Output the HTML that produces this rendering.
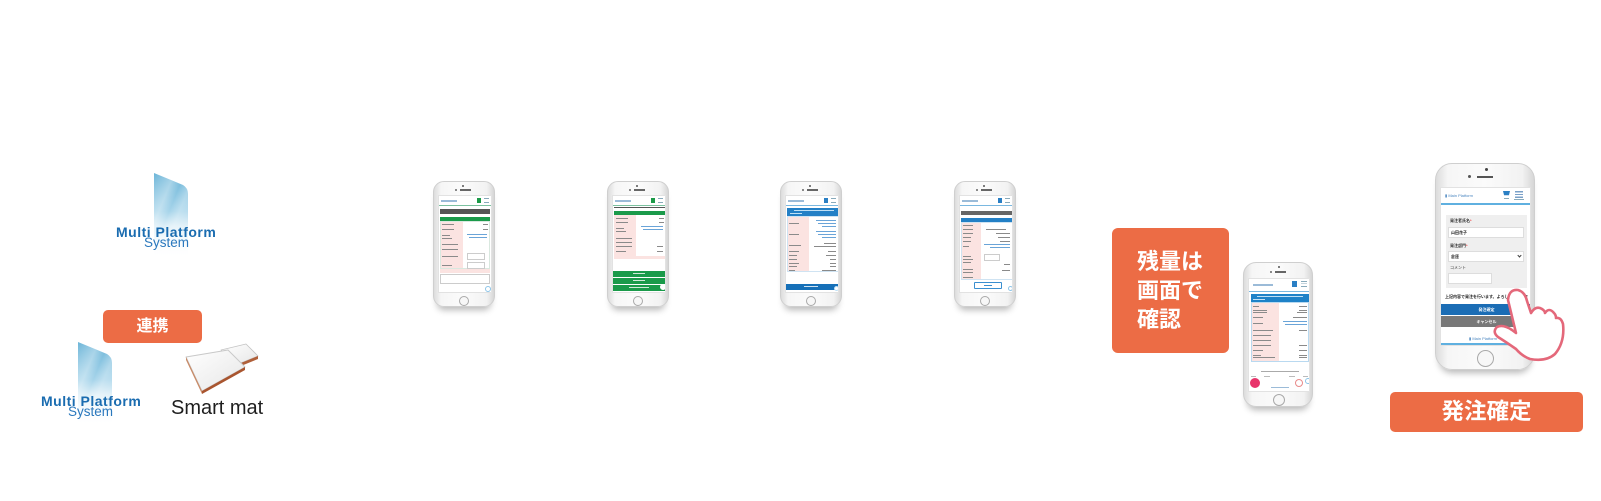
<!DOCTYPE html>
<html><head><meta charset="utf-8">
<style>
*{margin:0;padding:0;box-sizing:border-box}
html,body{width:1601px;height:501px;background:#fff;overflow:hidden}
body{position:relative;font-family:"Liberation Sans","Noto Sans CJK JP",sans-serif}
.a{position:absolute}
.ph{position:absolute;background:linear-gradient(90deg,#dcdcdc 0%,#f6f6f6 12%,#fbfbfb 50%,#f2f2f2 88%,#d6d6d6 100%);border:1px solid #cfcfcf;box-shadow:0 7px 7px -4px rgba(0,0,0,0.28)}
.scr{position:absolute;background:#fff;overflow:hidden;border:1px solid #e2e2e2}
.hb{position:absolute;border-radius:50%;border:1px solid #a9a9a9;background:#f7f7f7}
.t{position:absolute;height:1px;background:#8a8a8a}
.pk{position:absolute;background:#fbe3e1}
.orange{position:absolute;background:#ec6c45;border-radius:5px;color:#fff;font-weight:bold}
</style></head><body>

<!-- Logos + smart mat graphics -->
<svg class="a" style="left:0;top:0" width="300" height="440">
<defs>
<linearGradient id="g1" x1="0" y1="0" x2="0" y2="1">
<stop offset="0" stop-color="#6cb5d8"/><stop offset="0.45" stop-color="#a6d4ea"/><stop offset="0.62" stop-color="#dceef7"/><stop offset="1" stop-color="#ffffff" stop-opacity="0"/>
</linearGradient>
<linearGradient id="g2" x1="0" y1="0" x2="1" y2="1">
<stop offset="0" stop-color="#ffffff" stop-opacity="0"/><stop offset="0.3" stop-color="#ffffff" stop-opacity="0.35"/><stop offset="0.45" stop-color="#ffffff" stop-opacity="0"/><stop offset="0.6" stop-color="#ffffff" stop-opacity="0.3"/><stop offset="1" stop-color="#ffffff" stop-opacity="0"/>
</linearGradient>
<linearGradient id="gm" x1="0" y1="0" x2="1" y2="1">
<stop offset="0" stop-color="#ffffff"/><stop offset="1" stop-color="#e6e6e6"/>
</linearGradient>
</defs>
<path d="M154,173 L183,185 Q188,188 188,194 L188,258 L154,258 Z" fill="url(#g1)"/>
<path d="M154,173 L183,185 Q188,188 188,194 L188,258 L154,258 Z" fill="url(#g2)"/>
<path d="M78,342 L107,354 Q112,357 112,363 L112,426 L78,426 Z" fill="url(#g1)"/>
<path d="M78,342 L107,354 Q112,357 112,363 L112,426 L78,426 Z" fill="url(#g2)"/>
<!-- smart mat device -->
<polygon points="221,350 246,344 258,356 236,365" fill="url(#gm)" stroke="#c4c4c4" stroke-width="0.8" stroke-linejoin="round"/>
<polygon points="236,365 258,356 258,359 236,368" fill="#b0603a"/>
<polygon points="186,357 228,350 245,367 202,391" fill="url(#gm)" stroke="#c8c8c8" stroke-width="0.9" stroke-linejoin="round"/>
<polygon points="186,357 202,391 202,394 186,360" fill="#c98a66"/>
<polygon points="202,391 245,367 245,370 202,394" fill="#a9552f"/>
</svg>
<div class="a" style="left:116px;top:225px;font-size:14px;line-height:14px;font-weight:bold;color:#1a6cb0;letter-spacing:0.5px;white-space:nowrap">Multi Platform</div>
<div class="a" style="left:144px;top:236px;font-size:13.5px;line-height:14px;color:#2a78bd;white-space:nowrap">System</div>

<div class="orange" style="left:103px;top:310px;width:99px;height:33px;font-size:16px;line-height:33px;text-align:center">連携</div>

<div class="a" style="left:41px;top:394px;font-size:14px;line-height:14px;font-weight:bold;color:#1a6cb0;letter-spacing:0.5px;white-space:nowrap">Multi Platform</div>
<div class="a" style="left:68px;top:405px;font-size:13.5px;line-height:14px;color:#2a78bd;white-space:nowrap">System</div>
<div class="a" style="left:171px;top:397px;font-size:20px;line-height:22px;color:#1e1e1e;white-space:nowrap">Smart mat</div>

<!-- Phone 1 -->
<div class="ph" style="left:433px;top:181px;width:62px;height:126px;border-radius:11px">
 <div class="a" style="left:28px;top:3px;width:2px;height:2px;border-radius:50%;background:#555"></div>
 <div class="a" style="left:21px;top:7px;width:2px;height:2px;border-radius:50%;background:#666"></div>
 <div class="a" style="left:26px;top:7px;width:11px;height:1.5px;background:#666"></div>
 <div class="scr" style="left:4px;top:13px;width:54px;height:98px">
  <div class="a" style="left:2px;top:4px;width:16px;height:2px;background:#9bbbd8"></div>
  <div class="a" style="left:38px;top:2px;width:4px;height:5px;background:#1b9a48"></div>
  <div class="a" style="left:45px;top:2px;width:5px;height:5px;border-top:1px solid #8ab;border-bottom:1px solid #8ab"></div>
  <div class="a" style="left:0;top:9px;width:54px;height:1px;background:#7cc2a0"></div>
  <div class="a" style="left:1px;top:13px;width:50px;height:5px;background:#555"></div>
  <div class="a" style="left:1px;top:21px;width:50px;height:4px;background:#1a9a4a"></div>
  <div class="pk" style="left:1px;top:25px;width:23px;height:48px"></div>
  <div class="a" style="left:1px;top:25px;width:50px;height:48px;border:1px solid #d9e8df"></div>
  <div class="t" style="left:3px;top:28px;width:12px"></div><div class="t" style="left:44px;top:28px;width:5px"></div>
  <div class="t" style="left:3px;top:33px;width:12px"></div><div class="t" style="left:44px;top:33px;width:5px"></div>
  <div class="t" style="left:3px;top:39px;width:8px"></div><div class="t" style="left:28px;top:38px;width:20px;background:#6aa4d8"></div>
  <div class="t" style="left:3px;top:42px;width:10px"></div><div class="t" style="left:30px;top:41px;width:18px;background:#6aa4d8"></div>
  <div class="t" style="left:3px;top:48px;width:16px"></div>
  <div class="t" style="left:3px;top:53px;width:16px"></div>
  <div class="t" style="left:3px;top:60px;width:16px"></div><div class="a" style="left:28px;top:57px;width:18px;height:7px;border:1px solid #ccc"></div>
  <div class="t" style="left:3px;top:69px;width:10px"></div><div class="a" style="left:28px;top:66px;width:18px;height:7px;border:1px solid #ccc"></div>
  <div class="pk" style="left:1px;top:73px;width:50px;height:4px"></div>
  <div class="a" style="left:1px;top:78px;width:50px;height:10px;border:1px solid #ccc"></div>
  <div class="a" style="left:46px;top:90px;width:6px;height:6px;border-radius:50%;border:1px solid #8cc4e8"></div>
 </div>
 <div class="hb" style="left:25px;top:114px;width:10px;height:10px"></div>
</div>

<!-- Phone 2 -->
<div class="ph" style="left:607px;top:181px;width:62px;height:126px;border-radius:11px">
 <div class="a" style="left:28px;top:3px;width:2px;height:2px;border-radius:50%;background:#555"></div>
 <div class="a" style="left:21px;top:7px;width:2px;height:2px;border-radius:50%;background:#666"></div>
 <div class="a" style="left:26px;top:7px;width:11px;height:1.5px;background:#666"></div>
 <div class="scr" style="left:4px;top:13px;width:54px;height:98px">
  <div class="a" style="left:2px;top:4px;width:16px;height:2px;background:#9bbbd8"></div>
  <div class="a" style="left:38px;top:2px;width:4px;height:5px;background:#1b9a48"></div>
  <div class="a" style="left:45px;top:2px;width:5px;height:5px;border-top:1px solid #8ab;border-bottom:1px solid #8ab"></div>
  <div class="a" style="left:0;top:9px;width:54px;height:1px;background:#7cc2a0"></div>
  <div class="a" style="left:1px;top:11px;width:52px;height:1px;background:#555"></div>
  <div class="a" style="left:1px;top:15px;width:52px;height:4px;background:#1a9a4a"></div>
  <div class="pk" style="left:1px;top:19px;width:22px;height:41px"></div>
  <div class="t" style="left:3px;top:22px;width:12px"></div><div class="t" style="left:46px;top:22px;width:5px"></div>
  <div class="t" style="left:3px;top:26px;width:12px"></div><div class="t" style="left:46px;top:26px;width:5px"></div>
  <div class="t" style="left:3px;top:32px;width:8px"></div><div class="t" style="left:28px;top:30px;width:22px;background:#6aa4d8"></div>
  <div class="t" style="left:3px;top:35px;width:10px"></div><div class="t" style="left:30px;top:33px;width:20px;background:#6aa4d8"></div>
  <div class="t" style="left:3px;top:42px;width:16px"></div>
  <div class="t" style="left:3px;top:46px;width:16px"></div>
  <div class="t" style="left:3px;top:50px;width:16px"></div><div class="t" style="left:44px;top:50px;width:6px"></div>
  <div class="t" style="left:3px;top:55px;width:10px"></div><div class="t" style="left:44px;top:55px;width:6px"></div>
  <div class="pk" style="left:1px;top:60px;width:52px;height:3px"></div>
  <div class="a" style="left:0;top:75px;width:54px;height:6px;background:#1a9a4a"></div>
  <div class="a" style="left:0;top:82px;width:54px;height:6px;background:#1a9a4a"></div>
  <div class="a" style="left:0;top:89px;width:54px;height:6px;background:#1a9a4a"></div>
  <div class="a" style="left:20px;top:77px;width:12px;height:1px;background:#cfe9d8"></div>
  <div class="a" style="left:20px;top:84px;width:12px;height:1px;background:#cfe9d8"></div>
  <div class="a" style="left:16px;top:91px;width:20px;height:1px;background:#cfe9d8"></div>
  <div class="a" style="left:47px;top:88px;width:6px;height:6px;border-radius:50%;background:#fff"></div>
 </div>
 <div class="hb" style="left:25px;top:114px;width:10px;height:10px"></div>
</div>

<!-- Phone 3 -->
<div class="ph" style="left:780px;top:181px;width:62px;height:126px;border-radius:11px">
 <div class="a" style="left:28px;top:3px;width:2px;height:2px;border-radius:50%;background:#555"></div>
 <div class="a" style="left:21px;top:7px;width:2px;height:2px;border-radius:50%;background:#666"></div>
 <div class="a" style="left:26px;top:7px;width:11px;height:1.5px;background:#666"></div>
 <div class="scr" style="left:4px;top:13px;width:54px;height:98px">
  <div class="a" style="left:2px;top:4px;width:16px;height:2px;background:#9bbbd8"></div>
  <div class="a" style="left:38px;top:2px;width:4px;height:5px;background:#2a7fc4"></div>
  <div class="a" style="left:45px;top:2px;width:5px;height:5px;border-top:1px solid #8ab;border-bottom:1px solid #8ab"></div>
  <div class="a" style="left:0;top:9px;width:54px;height:1px;background:#7ab8e0"></div>
  <div class="a" style="left:1px;top:12px;width:52px;height:8px;background:#2380c6"></div>
  <div class="a" style="left:8px;top:14px;width:40px;height:1px;background:#bfe0f6"></div>
  <div class="a" style="left:4px;top:17px;width:12px;height:1px;background:#bfe0f6"></div>
  <div class="pk" style="left:1px;top:20px;width:22px;height:56px"></div>
  <div class="a" style="left:1px;top:20px;width:52px;height:56px;border:1px solid #cfe3f2"></div>
  <div class="t" style="left:3px;top:27px;width:10px"></div><div class="t" style="left:30px;top:24px;width:20px;background:#6aa4d8"></div><div class="t" style="left:32px;top:27px;width:18px;background:#6aa4d8"></div><div class="t" style="left:36px;top:30px;width:14px;background:#6aa4d8"></div>
  <div class="t" style="left:3px;top:38px;width:10px"></div><div class="t" style="left:30px;top:35px;width:20px;background:#6aa4d8"></div><div class="t" style="left:32px;top:38px;width:18px;background:#6aa4d8"></div><div class="t" style="left:36px;top:41px;width:14px;background:#6aa4d8"></div>
  <div class="t" style="left:3px;top:49px;width:12px"></div><div class="t" style="left:38px;top:47px;width:12px"></div><div class="t" style="left:28px;top:50px;width:22px"></div>
  <div class="t" style="left:3px;top:55px;width:10px"></div><div class="t" style="left:42px;top:55px;width:8px"></div>
  <div class="t" style="left:3px;top:59px;width:8px"></div><div class="t" style="left:40px;top:59px;width:10px"></div>
  <div class="t" style="left:3px;top:63px;width:8px"></div><div class="t" style="left:44px;top:63px;width:6px"></div>
  <div class="t" style="left:3px;top:67px;width:10px"></div><div class="t" style="left:44px;top:67px;width:6px"></div>
  <div class="t" style="left:3px;top:70px;width:8px"></div><div class="t" style="left:44px;top:70px;width:6px"></div>
  <div class="t" style="left:3px;top:74px;width:6px"></div><div class="t" style="left:36px;top:74px;width:14px"></div>
  <div class="a" style="left:0;top:88px;width:54px;height:6px;background:#1670b8"></div>
  <div class="a" style="left:18px;top:90px;width:14px;height:1px;background:#cfe3f2"></div>
  <div class="a" style="left:48px;top:90px;width:5px;height:5px;border-radius:50%;border:1px solid #bfe0f6;background:#fff"></div>
 </div>
 <div class="hb" style="left:25px;top:114px;width:10px;height:10px"></div>
</div>

<!-- Phone 4 -->
<div class="ph" style="left:954px;top:181px;width:62px;height:126px;border-radius:11px">
 <div class="a" style="left:28px;top:3px;width:2px;height:2px;border-radius:50%;background:#555"></div>
 <div class="a" style="left:21px;top:7px;width:2px;height:2px;border-radius:50%;background:#666"></div>
 <div class="a" style="left:26px;top:7px;width:11px;height:1.5px;background:#666"></div>
 <div class="scr" style="left:4px;top:13px;width:54px;height:98px">
  <div class="a" style="left:2px;top:4px;width:16px;height:2px;background:#9bbbd8"></div>
  <div class="a" style="left:38px;top:2px;width:4px;height:5px;background:#2a7fc4"></div>
  <div class="a" style="left:45px;top:2px;width:5px;height:5px;border-top:1px solid #8ab;border-bottom:1px solid #8ab"></div>
  <div class="a" style="left:0;top:9px;width:54px;height:1px;background:#7ab8e0"></div>
  <div class="a" style="left:1px;top:15px;width:52px;height:4px;background:#666"></div>
  <div class="a" style="left:1px;top:22px;width:52px;height:4px;background:#2380c6"></div>
  <div class="pk" style="left:1px;top:26px;width:20px;height:58px"></div>
  <div class="a" style="left:1px;top:26px;width:52px;height:58px;border:1px solid #cfe3f2"></div>
  <div class="t" style="left:3px;top:29px;width:10px"></div>
  <div class="t" style="left:3px;top:33px;width:10px"></div><div class="t" style="left:26px;top:33px;width:20px"></div>
  <div class="t" style="left:3px;top:37px;width:10px"></div><div class="t" style="left:36px;top:37px;width:14px"></div>
  <div class="t" style="left:3px;top:41px;width:8px"></div><div class="t" style="left:38px;top:41px;width:12px"></div>
  <div class="t" style="left:3px;top:45px;width:8px"></div><div class="t" style="left:40px;top:45px;width:10px"></div>
  <div class="t" style="left:3px;top:50px;width:6px"></div><div class="t" style="left:24px;top:48px;width:26px;background:#6aa4d8"></div><div class="t" style="left:30px;top:51px;width:20px;background:#6aa4d8"></div>
  <div class="t" style="left:3px;top:60px;width:8px"></div><div class="t" style="left:3px;top:63px;width:10px"></div><div class="t" style="left:3px;top:66px;width:8px"></div>
  <div class="a" style="left:24px;top:58px;width:16px;height:7px;border:1px solid #ccc"></div>
  <div class="t" style="left:44px;top:68px;width:6px"></div>
  <div class="t" style="left:3px;top:73px;width:10px"></div><div class="t" style="left:3px;top:76px;width:10px"></div><div class="t" style="left:42px;top:74px;width:8px"></div>
  <div class="t" style="left:3px;top:81px;width:10px"></div>
  <div class="a" style="left:14px;top:86px;width:28px;height:7px;border:1px solid #3a8fd0;border-radius:1px"></div>
  <div class="a" style="left:24px;top:89px;width:8px;height:1px;background:#3a8fd0"></div>
  <div class="a" style="left:48px;top:90px;width:5px;height:5px;border-radius:50%;border:1px solid #8cc4e8;background:#fff"></div>
 </div>
 <div class="hb" style="left:25px;top:114px;width:10px;height:10px"></div>
</div>

<!-- 残量は画面で確認 -->
<div class="orange" style="left:1112px;top:228px;width:117px;height:125px;border-radius:6px">
 <div class="a" style="left:25px;top:19px;font-size:22px;line-height:29px;white-space:nowrap">残量は<br>画面で<br>確認</div>
</div>

<!-- Medium phone -->
<div class="ph" style="left:1243px;top:262px;width:70px;height:145px;border-radius:13px">
 <div class="a" style="left:34px;top:3px;width:2px;height:2px;border-radius:50%;background:#555"></div>
 <div class="a" style="left:26px;top:8px;width:2px;height:2px;border-radius:50%;background:#666"></div>
 <div class="a" style="left:31px;top:8px;width:11px;height:1.5px;background:#666"></div>
 <div class="scr" style="left:4px;top:15px;width:62px;height:114px">
  <div class="a" style="left:4px;top:5px;width:20px;height:2px;background:#9bbbd8"></div>
  <div class="a" style="left:43px;top:2px;width:5px;height:6px;background:#2a7fc4"></div>
  <div class="a" style="left:52px;top:2px;width:6px;height:6px;border-top:1px solid #8ab;border-bottom:1px solid #8ab;background:linear-gradient(#fff 40%,#8ab 40%,#8ab 55%,#fff 55%)"></div>
  <div class="a" style="left:0;top:12px;width:62px;height:1px;background:#7ab8e0"></div>
  <div class="a" style="left:2px;top:15px;width:58px;height:8px;background:#1e82c8"></div>
  <div class="a" style="left:8px;top:17px;width:46px;height:1px;background:#bfe0f6"></div>
  <div class="a" style="left:4px;top:20px;width:12px;height:1px;background:#bfe0f6"></div>
  <div class="pk" style="left:3px;top:23px;width:27px;height:60px"></div>
  <div class="a" style="left:2px;top:23px;width:58px;height:60px;border:1px solid #b9d9f0"></div>
  <div class="t" style="left:4px;top:27px;width:6px"></div><div class="t" style="left:50px;top:27px;width:8px"></div>
  <div class="t" style="left:4px;top:31px;width:14px"></div><div class="t" style="left:4px;top:33px;width:14px"></div><div class="t" style="left:50px;top:31px;width:8px"></div><div class="t" style="left:48px;top:33px;width:10px"></div>
  <div class="t" style="left:4px;top:38px;width:10px"></div><div class="t" style="left:44px;top:38px;width:14px"></div>
  <div class="t" style="left:4px;top:44px;width:10px"></div><div class="t" style="left:34px;top:42px;width:24px;background:#6aa4d8"></div><div class="t" style="left:36px;top:45px;width:22px;background:#6aa4d8"></div>
  <div class="t" style="left:4px;top:51px;width:20px"></div><div class="t" style="left:50px;top:51px;width:8px"></div>
  <div class="t" style="left:4px;top:56px;width:18px"></div>
  <div class="t" style="left:4px;top:61px;width:18px"></div>
  <div class="t" style="left:4px;top:66px;width:18px"></div><div class="t" style="left:50px;top:66px;width:8px"></div>
  <div class="t" style="left:4px;top:71px;width:10px"></div><div class="t" style="left:50px;top:71px;width:8px"></div>
  <div class="t" style="left:4px;top:76px;width:8px"></div><div class="t" style="left:4px;top:78px;width:22px"></div><div class="t" style="left:50px;top:76px;width:8px"></div><div class="t" style="left:50px;top:78px;width:8px"></div>
  <div class="t" style="left:12px;top:92px;width:38px;background:#aaa"></div>
  <div class="t" style="left:2px;top:97px;width:5px;background:#bbb"></div><div class="t" style="left:15px;top:97px;width:6px;background:#bbb"></div><div class="t" style="left:40px;top:97px;width:6px;background:#bbb"></div><div class="t" style="left:54px;top:97px;width:5px;background:#bbb"></div>
  <div class="a" style="left:1px;top:99px;width:10px;height:10px;border-radius:50%;background:#e8336a"></div>
  <div class="a" style="left:46px;top:100px;width:8px;height:8px;border-radius:50%;border:1px solid #e88a8a"></div>
  <div class="a" style="left:56px;top:99px;width:6px;height:6px;border-radius:50%;border:1px solid #8cc4e8"></div>
  <div class="a" style="left:22px;top:108px;width:18px;height:1px;background:#9bbbd8"></div>
 </div>
 <div class="hb" style="left:29px;top:131px;width:12px;height:12px"></div>
</div>

<!-- Big phone -->
<div class="ph" style="left:1435px;top:163px;width:100px;height:207px;border-radius:17px">
 <div class="a" style="left:49px;top:4px;width:3px;height:3px;border-radius:50%;background:#444"></div>
 <div class="a" style="left:32px;top:11px;width:3px;height:3px;border-radius:50%;background:#555"></div>
 <div class="a" style="left:41px;top:12px;width:16px;height:1.5px;background:#555"></div>
 <div class="scr" style="left:4px;top:23px;width:91px;height:159px">
  <div class="a" style="left:4px;top:5px;font-size:4px;line-height:5px;color:#4a86c0;white-space:nowrap">▮ Main Platform</div>
  <div class="a" style="left:62px;top:3px;width:7px;height:6px;background:#2a7fc4;clip-path:polygon(0 0,100% 0,85% 70%,15% 70%)"></div>
  <div class="a" style="left:63px;top:10px;width:5px;height:1px;background:#8ab"></div>
  <div class="a" style="left:74px;top:3px;width:8px;height:7px;background:linear-gradient(#7aa0c8 0 20%,#fff 20% 40%,#7aa0c8 40% 60%,#fff 60% 80%,#7aa0c8 80%)"></div>
  <div class="a" style="left:73px;top:11px;width:10px;height:1px;background:#8ab"></div>
  <div class="a" style="left:0;top:15px;width:91px;height:2px;background:#5fb0e0"></div>
  <div class="a" style="left:5px;top:27px;width:81px;height:73px;background:#efefef"></div>
  <div class="a" style="left:9px;top:31px;font-size:4px;line-height:4px;color:#333;font-weight:bold;white-space:nowrap">発注者氏名<span style="color:#e33">*</span></div>
  <div class="a" style="left:7px;top:39px;width:76px;height:11px;background:#fff;border:1px solid #ddd"></div>
  <div class="a" style="left:10px;top:43px;font-size:4px;line-height:4px;color:#222;font-weight:bold">山田花子</div>
  <div class="a" style="left:9px;top:56px;font-size:4px;line-height:4px;color:#333;font-weight:bold;white-space:nowrap">発注部門<span style="color:#e33">*</span></div>
  <div class="a" style="left:7px;top:63px;width:76px;height:11px;background:#fff;border:1px solid #ddd"></div>
  <div class="a" style="left:10px;top:67px;font-size:4px;line-height:4px;color:#222;font-weight:bold">倉庫</div>
  <div class="a" style="left:77px;top:66px;width:3px;height:3px;border-right:1px solid #444;border-bottom:1px solid #444;transform:rotate(45deg)"></div>
  <div class="a" style="left:9px;top:78px;font-size:4px;line-height:4px;color:#333;white-space:nowrap">コメント</div>
  <div class="a" style="left:7px;top:85px;width:44px;height:11px;background:#fff;border:1px solid #ddd"></div>
  <div class="a" style="left:4px;top:107px;font-size:4px;line-height:4px;color:#222;font-weight:bold;white-space:nowrap">上記内容で発注を行います。よろしいですか？</div>
  <div class="a" style="left:0;top:116px;width:91px;height:11px;background:#1b6db5;color:#fff;font-size:4px;line-height:11px;text-align:center;font-weight:bold">発注確定</div>
  <div class="a" style="left:0;top:128px;width:91px;height:11px;background:#787878;color:#fff;font-size:4px;line-height:11px;text-align:center;font-weight:bold">キャンセル</div>
  <div class="a" style="left:28px;top:148px;font-size:4px;line-height:5px;color:#4a86c0;white-space:nowrap">▮ Main Platform</div>
  <div class="a" style="left:0;top:155px;width:91px;height:2px;background:#5fb0e0"></div>
 </div>
 <div class="hb" style="left:41px;top:186px;width:17px;height:17px"></div>
</div>

<!-- Hand -->
<svg class="a" style="left:0;top:0" width="1601" height="501">
<path d="M1508,300 Q1509,289 1518,290 Q1525,292 1527,301 L1531,313 Q1536,305 1542,309 Q1545,311 1545,313 Q1549,307 1554,313 Q1556,315 1556,318 Q1561,317 1563,324 Q1565,342 1555,354 Q1546,362 1530,359 Q1522,356 1516,349 Q1506,342 1498,337 Q1492,332 1497,327 Q1503,324 1512,330 L1516,333 Z" fill="#fff" stroke="#e4687a" stroke-width="2.6" stroke-linejoin="round"/>
</svg>

<!-- 発注確定 -->
<div class="orange" style="left:1390px;top:392px;width:193px;height:40px;font-size:22.5px;line-height:40px;text-align:center">発注確定</div>

</body></html>
